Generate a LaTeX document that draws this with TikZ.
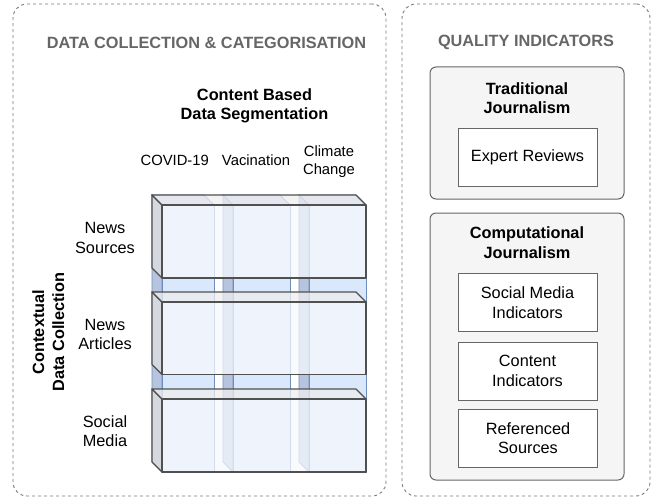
\documentclass[tikz,border=0pt]{standalone}
\usepackage{fontspec}
\setmainfont{Liberation Sans}
\definecolor{dashgray}{HTML}{7A7A7A}
\definecolor{titlegray}{HTML}{666666}
\definecolor{boxstroke}{HTML}{666666}
\definecolor{grpfill}{HTML}{F5F5F5}
\definecolor{colfront}{HTML}{DAE8FC}
\definecolor{colside}{HTML}{B6C5DD}
\definecolor{coltop}{HTML}{C8D7EE}
\definecolor{colstroke}{HTML}{6C8EBF}
\definecolor{rowfront}{HTML}{F5F8FC}
\definecolor{rowtop}{HTML}{EEEEEE}
\definecolor{rowside}{HTML}{E0E0E0}
\definecolor{rowstroke}{HTML}{505050}
\newcommand\mycube[5]{% x0 y0 x1 y1 kind
  \filldraw[#5side] (#1,#2) -- ({#1+10},{#2+10}) -- ({#1+10},#4) -- (#1,{#4-10}) -- cycle;
  \filldraw[#5top] (#1,#2) -- ({#3-10},#2) -- (#3,{#2+10}) -- ({#1+10},{#2+10}) -- cycle;
  \filldraw[#5front] ({#1+10},{#2+10}) rectangle (#3,#4);
}
\begin{document}
\begin{tikzpicture}[x=1pt,y=-1pt,
  container/.style={draw=dashgray, dash pattern=on 3pt off 3pt, rounded corners=14pt, line width=0.9pt},
  title/.style={font=\bfseries\fontsize{16.3}{19.6}\selectfont, text=titlegray, inner sep=0},
  lbl/.style={font=\fontsize{16.3}{19.6}\selectfont, align=center, inner sep=0},
  blbl/.style={font=\bfseries\fontsize{16.3}{19}\selectfont, align=center, inner sep=0},
  clbl/.style={font=\fontsize{14.8}{18}\selectfont, align=center, inner sep=0},
  grp/.style={draw=boxstroke, fill=grpfill, rounded corners=6pt, line width=1pt, minimum width=194pt},
  item/.style={draw=boxstroke, fill=white, line width=1pt, minimum width=139pt, minimum height=58pt,
    font=\fontsize{16.3}{19.6}\selectfont, align=center, inner sep=0},
  colside/.style={fill=colside, draw=colstroke, line width=0.8pt},
  coltop/.style={fill=coltop, draw=colstroke, line width=0.8pt},
  colfront/.style={fill=colfront, draw=colstroke, line width=0.8pt},
  rowside/.style={fill=rowside, fill opacity=0.75, draw=rowstroke, line width=1.2pt, line join=round},
  rowtop/.style={fill=rowtop, fill opacity=0.75, draw=rowstroke, line width=1.2pt, line join=round},
  rowfront/.style={fill=rowfront, fill opacity=0.75, draw=rowstroke, line width=1.2pt, line join=round},
]
\useasboundingbox (0,0) rectangle (652,500);

% containers
\node[container, minimum width=373pt, minimum height=492pt] (leftbox) at (199.5,250) {};
\node[container, minimum width=248pt, minimum height=492pt] (rightbox) at (526,250) {};

\node[title] (t1) at (206.5,42.5) {DATA COLLECTION \& CATEGORISATION};
\node[title] (t2) at (526,42.5) {QUALITY INDICATORS};

% segmentation labels
\node[blbl] (seg) at (254.5,106) {Content Based\\Data Segmentation};
\node[clbl] (c1) at (174.7,160) {COVID-19};
\node[clbl] (c2) at (256,160) {Vacination};
\node[clbl] (c3) at (329,161.5) {Climate\\Change};

% row labels
\node[lbl] (r1) at (105,238) {News\\Sources};
\node[lbl] (r2) at (105,334.5) {News\\Articles};
\node[lbl] (r3) at (105,431) {Social\\Media};
\node[blbl, rotate=90, font=\bfseries\fontsize{16.3}{20}\selectfont] (ctx) at (48.3,332) {Contextual\\Data Collection};

% columns
\mycube{152}{195}{214}{472}{col}
\mycube{223}{195}{290}{472}{col}
\mycube{299}{195}{366}{472}{col}
% rows
\mycube{152}{195}{366}{278}{row}
\mycube{152}{292}{366}{374.5}{row}
\mycube{152}{389}{366}{472}{row}

% quality indicators
\node[grp, minimum height=132pt] (trad) at (527,133) {};
\node[blbl, font=\bfseries\fontsize{16.3}{19.6}\selectfont] (tradt) at (527,98) {Traditional\\Journalism};
\node[item] (er) at (527.5,157) {Expert Reviews};

\node[grp, minimum height=267pt] (comp) at (527,346.5) {};
\node[blbl, font=\bfseries\fontsize{16.3}{19.6}\selectfont] (compt) at (527,242.5) {Computational\\Journalism};
\node[item] (smi) at (527.5,302.5) {Social Media\\Indicators};
\node[item] (ci) at (527.5,371) {Content\\Indicators};
\node[item] (rs) at (528,438) {Referenced\\Sources};
\end{tikzpicture}
\end{document}
